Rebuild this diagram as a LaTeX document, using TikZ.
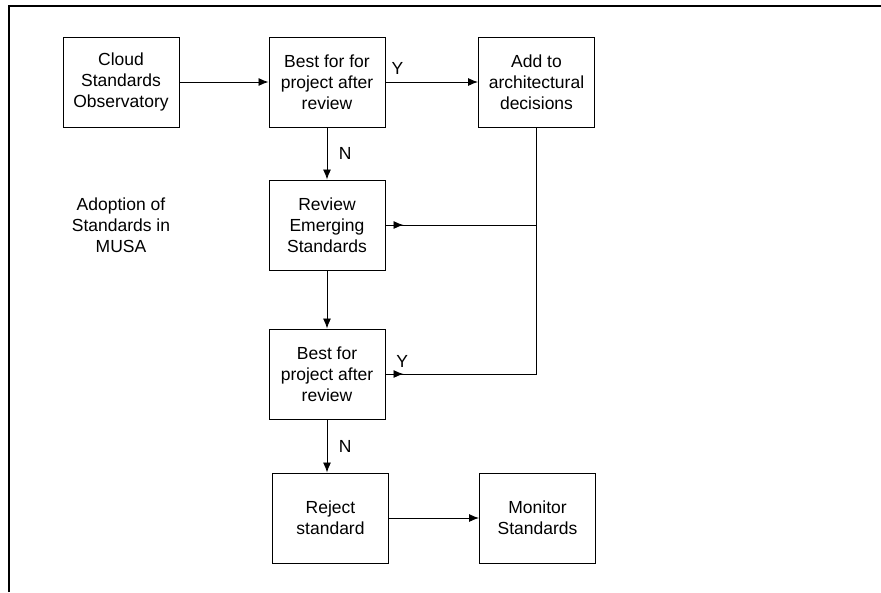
\documentclass[tikz,border=0pt]{standalone}
\usepackage{fontspec}
\setmainfont{Liberation Sans}
\usetikzlibrary{positioning, arrows.meta, decorations.markings}

\begin{document}
\begin{tikzpicture}[x=1pt, y=-1pt,
    font=\fontsize{17.5pt}{21pt}\selectfont,
    flowbox/.style={draw, line width=1pt, minimum width=116pt, minimum height=90pt, align=center, inner sep=2pt},
    note/.style={align=center, inner sep=2pt},
    arr/.style={-{Latex[length=10pt,width=8pt]}, line width=0.9pt},
    joinarr/.style={line width=0.9pt, postaction={decorate},
      decoration={markings, mark=at position 18pt with {\arrow{Latex[length=10pt,width=8pt]}}}}]
  \useasboundingbox (0,0) rectangle (881,592);
  \draw[line width=2pt] (8.5,592) -- (8.5,5.5) -- (881,5.5);
  \node[flowbox] (cso) at (121,82) {Cloud\\Standards\\Observatory};
  \node[flowbox, right=89pt of cso] (best1) {Best for for\\project after\\review};
  \node[flowbox, right=92.5pt of best1] (add) {Add to\\architectural\\decisions};
  \node[flowbox, below=52pt of best1] (rev) {Review\\Emerging\\Standards};
  \node[note] (adopt) at (cso |- rev) {Adoption of\\Standards in\\MUSA};
  \node[flowbox, below=58pt of rev] (best2) {Best for\\project after\\review};
  \node[flowbox, below=53pt of best2, xshift=3.5pt] (rej) {Reject\\standard};
  \node[flowbox, right=90pt of rej] (mon) {Monitor\\Standards};
  \coordinate (jrev) at (add.south |- rev.east);
  \coordinate (jbest) at (add.south |- best2.east);
  \draw[arr] (cso) -- (best1);
  \draw[arr] (best1) -- node[above=4pt, pos=0.13] {Y} (add);
  \draw[arr] (best1) -- node[right=8pt] {N} (rev);
  \draw[arr] (rev) -- (best2);
  \draw[arr] (best2.south) -- node[right=8pt] {N} (rej.north -| best2.south);
  \draw[arr] (rej) -- (mon);
  \draw[line width=0.9pt] (add.south) -- (jbest);
  \draw[joinarr] (rev.east) -- (jrev);
  \draw[joinarr] (best2.east) -- node[above=3pt, pos=0.11] {Y} (jbest);
\end{tikzpicture}
\end{document}
